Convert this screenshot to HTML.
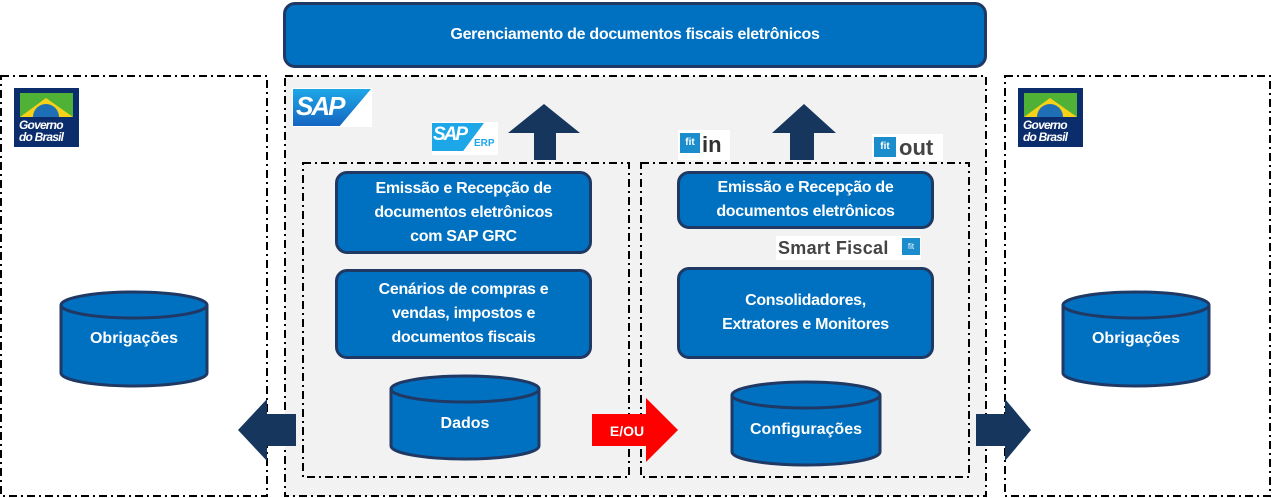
<!DOCTYPE html>
<html><head><meta charset="utf-8"><style>
body{margin:0;width:1272px;height:498px;background:#fff;position:relative;overflow:hidden;font-family:"Liberation Sans",sans-serif}
.b{position:absolute;background:#0070c0;border:3px solid #1f3864;border-radius:12px;box-sizing:border-box;color:#fff;font-weight:bold;font-size:16px;display:flex;align-items:center;justify-content:center;text-align:center;line-height:24px;letter-spacing:-0.3px}
.t{position:absolute;color:#fff;font-weight:bold;font-size:16px;text-align:center}
.gov{position:absolute;width:65px;height:59px;background:#0b2d6b}
.gov .f{position:absolute;left:6px;top:5px;width:53px;height:24px;background:#4fb237}
.gov .y{position:absolute;left:6px;width:0;height:0;border-left:26px solid transparent;border-right:27px solid transparent;border-bottom:19px solid #f7d117;top:10px}
.gov .c{position:absolute;left:19px;top:16px;width:26px;height:26px;border-radius:50%;background:#1e6fb5;clip-path:inset(0 0 13px 0)}
.gov .w{position:absolute;left:5px;top:31px;color:#fff;font-weight:bold;font-style:italic;font-size:12px;line-height:12px;letter-spacing:-0.8px}
.fit{position:absolute;background:#1b8ccc;color:#fff;font-weight:bold;text-align:center}
</style></head><body>
<svg width="1272" height="498" style="position:absolute;left:0;top:0">
<rect x="285" y="76" width="701" height="420" fill="#f2f2f2"/>
<g fill="none" stroke="#000" stroke-width="2" stroke-dasharray="8 4 2 4">
<rect x="1" y="76" width="266" height="420"/>
<rect x="285" y="76" width="701" height="420"/>
<rect x="1005" y="76" width="265" height="420"/>
<rect x="303" y="163" width="326" height="314"/>
<rect x="641" y="163" width="328" height="314"/>
</g>
<g fill="#17365d">
<polygon points="534,160 556,160 556,133 580,133 544,104 508,133 534,133"/>
<polygon points="790,160 814,160 814,133 836,133 804,104 772,133 790,133"/>
<polygon points="296,414 267,414 267,399 238,430 267,461 267,446 296,446"/>
<polygon points="976,414 1005,414 1005,399 1031,430 1005,461 1005,446 976,446"/>
</g>
<polygon fill="#ff0000" points="592,414 646,414 646,398 678,430 646,462 646,446 592,446"/>
<text x="627" y="436" fill="#fff" font-family="Liberation Sans" font-weight="bold" font-size="14" text-anchor="middle">E/OU</text>
<g fill="#0070c0" stroke="#1f3864" stroke-width="3">
<path d="M391,389 V446 A74,13 0 0 0 539,446 V389"/><ellipse cx="465" cy="389" rx="74" ry="13"/>
<path d="M732,395 V452 A74,13 0 0 0 880,452 V395"/><ellipse cx="806" cy="395" rx="74" ry="13"/>
<path d="M61,305 V373 A73,13 0 0 0 207,373 V305"/><ellipse cx="134" cy="305" rx="73" ry="13"/>
<path d="M1063,305 V373 A73,13 0 0 0 1209,373 V305"/><ellipse cx="1136" cy="305" rx="73" ry="13"/>
</g>
</svg>
<div class="b" style="left:283px;top:2px;width:704px;height:66px">Gerenciamento de documentos fiscais eletrônicos</div>
<div class="b" style="left:335px;top:171px;width:257px;height:83px">Emissão e Recepção de<br>documentos eletrônicos<br>com SAP GRC</div>
<div class="b" style="left:335px;top:269px;width:257px;height:90px">Cenários de compras e<br>vendas, impostos e<br>documentos fiscais</div>
<div class="b" style="left:677px;top:171px;width:257px;height:58px">Emissão e Recepção de<br>documentos eletrônicos</div>
<div class="b" style="left:677px;top:267px;width:257px;height:92px">Consolidadores,<br>Extratores e Monitores</div>
<div class="t" style="left:391px;top:415px;width:148px">Dados</div>
<div class="t" style="left:732px;top:421px;width:148px">Configurações</div>
<div class="t" style="left:61px;top:330px;width:146px">Obrigações</div>
<div class="t" style="left:1063px;top:330px;width:146px">Obrigações</div>
<div class="gov" style="left:14px;top:88px"><div class="f"></div><div class="y"></div><div class="c"></div><div class="w">Governo<br>do Brasil</div></div>
<div class="gov" style="left:1018px;top:88px"><div class="f"></div><div class="y"></div><div class="c"></div><div class="w">Governo<br>do Brasil</div></div>
<div style="position:absolute;left:292px;top:88px;width:80px;height:39px;background:#fff"><div style="position:absolute;left:1px;top:1px;width:78px;height:37px;background:linear-gradient(#1ea7e8,#1565c0);clip-path:polygon(0 0,100% 0,60% 100%,0 100%)"></div><div style="position:absolute;left:4px;top:3px;color:#fff;font-weight:bold;font-size:26px;font-style:italic;letter-spacing:-2px">SAP</div></div>
<div style="position:absolute;left:432px;top:122px;width:66px;height:33px;background:#fff"><div style="position:absolute;left:0;top:1px;width:52px;height:28px;background:#1ea7e8;clip-path:polygon(0 0,100% 0,60% 100%,0 100%)"></div><div style="position:absolute;left:1px;top:2px;color:#fff;font-weight:bold;font-size:19px;font-style:italic;letter-spacing:-2px">SAP</div><div style="position:absolute;left:42px;top:16px;color:#1ea7e8;font-weight:bold;font-size:10px">ERP</div></div>
<div style="position:absolute;left:678px;top:130px;width:52px;height:30px;background:#fff"><div class="fit" style="left:2px;top:3px;width:20px;height:20px;font-size:10px;line-height:20px">fit</div><div style="position:absolute;left:24px;top:2px;color:#333;font-weight:bold;font-size:22px">in</div></div>
<div style="position:absolute;left:872px;top:134px;width:71px;height:27px;background:#fff"><div class="fit" style="left:2px;top:3px;width:22px;height:20px;font-size:10px;line-height:20px">fit</div><div style="position:absolute;left:27px;top:1px;color:#444;font-weight:bold;font-size:22px">out</div></div>
<div style="position:absolute;left:776px;top:236px;width:145px;height:24px;background:#fff"><div style="position:absolute;left:2px;top:2px;color:#444;font-weight:bold;font-size:18px;letter-spacing:0.3px">Smart Fiscal</div><div class="fit" style="left:126px;top:2px;width:18px;height:17px;font-size:8px;line-height:17px;font-weight:normal">fit</div></div>
</body></html>
